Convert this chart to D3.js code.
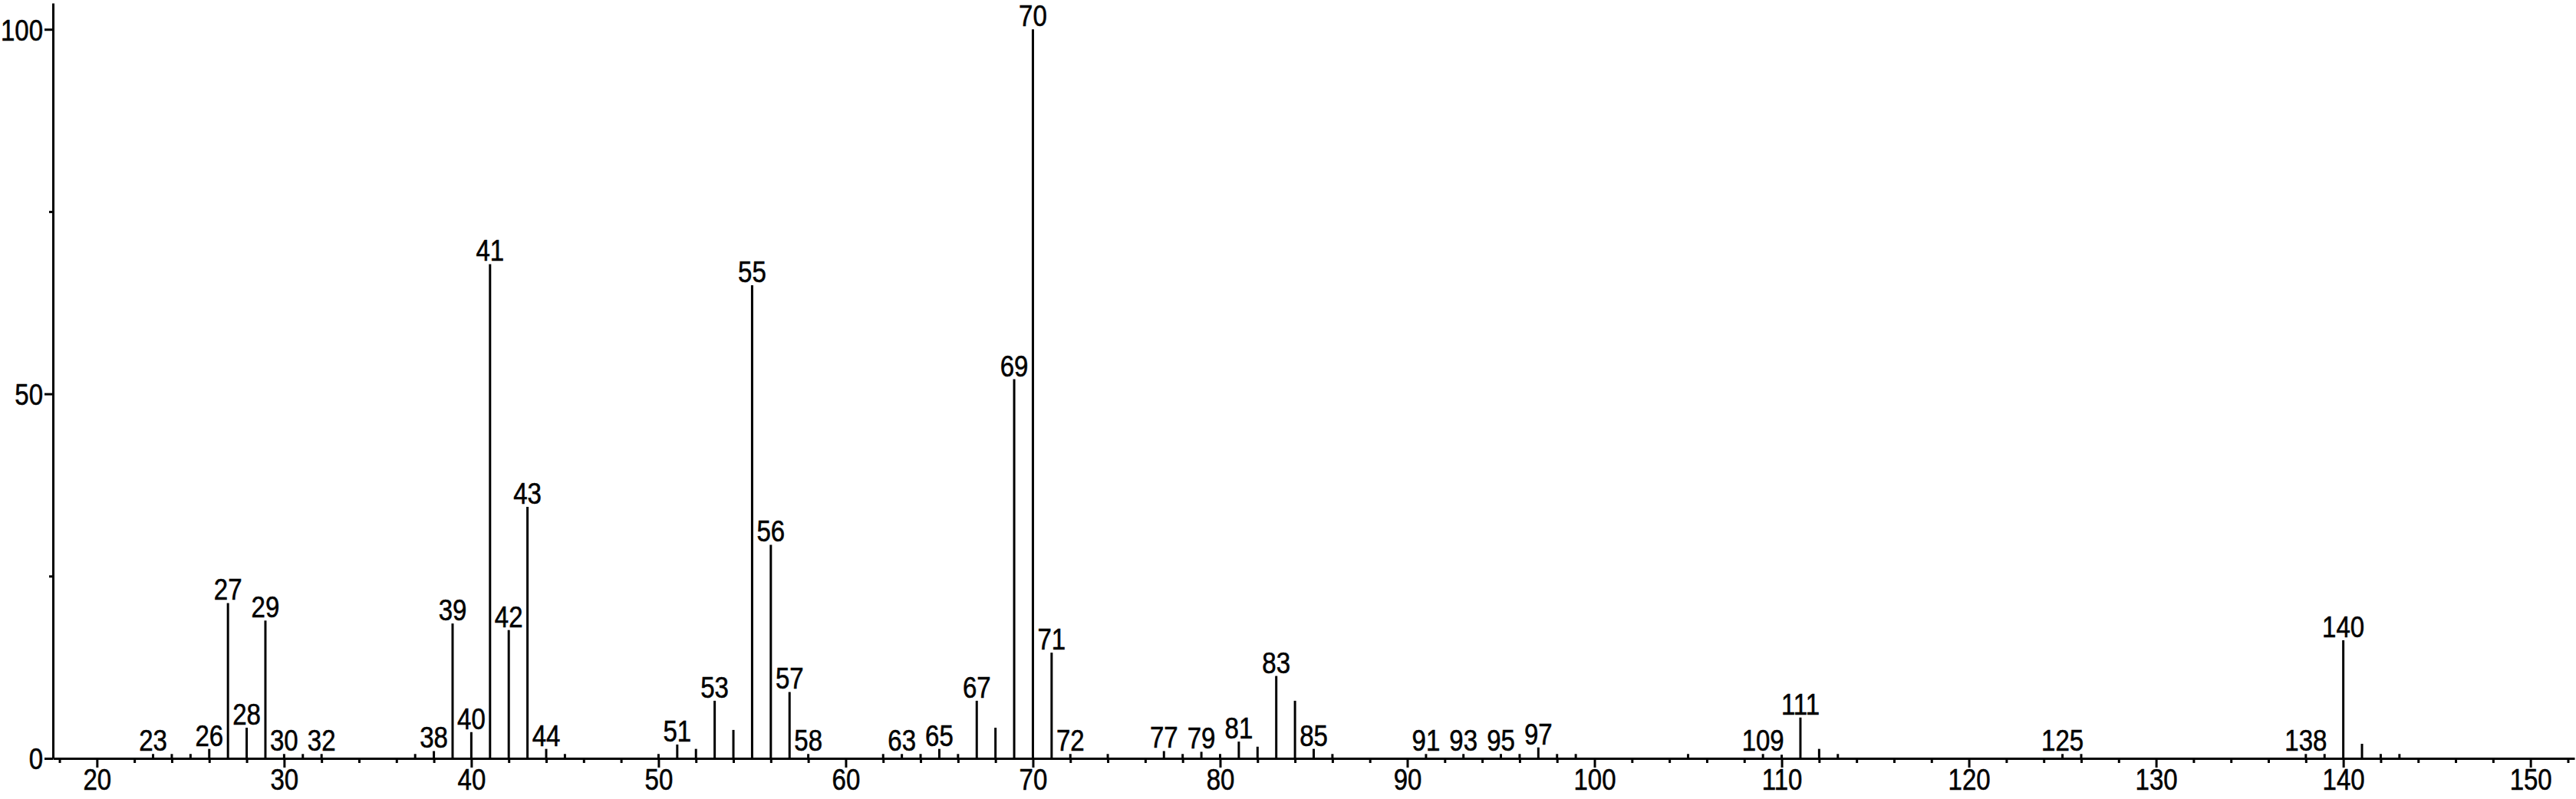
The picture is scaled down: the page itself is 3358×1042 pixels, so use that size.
<!DOCTYPE html>
<html><head><meta charset="utf-8">
<script src="https://cdn.jsdelivr.net/npm/d3@7"></script>
<style>
html,body{margin:0;padding:0;background:#fff;}
svg{display:block;}
text{font-family:"Liberation Sans",Arial,sans-serif;fill:#000;stroke:#000;stroke-width:0.5px;}
</style></head>
<body>
<script>
// m/z values of the peaks
const mz = [23,24,25,26,27,28,29,30,31,32,37,38,39,40,41,42,43,44,45,50,51,52,53,54,55,56,57,58,62,63,64,65,66,67,68,69,70,71,72,74,77,78,79,80,81,82,83,84,85,86,91,93,95,96,97,98,99,105,109,110,111,112,113,125,126,138,139,140,141,142,143];
// relative intensities (%)
const intensity = [0.6,0.6,0.6,1.3,21.3,4.2,18.9,0.6,0.6,0.6,0.6,1.0,18.5,3.6,67.8,17.6,34.5,1.3,0.6,0.6,1.9,1.3,7.9,3.9,64.9,29.3,9.1,0.6,0.6,0.6,0.6,1.3,0.6,7.9,4.2,52.0,100,14.5,0.6,0.6,1.0,0.6,0.9,0.6,2.3,1.6,11.3,7.9,1.3,0.6,0.6,0.6,0.6,0.6,1.5,0.6,0.6,0.6,0.6,0.5,5.6,1.3,0.6,0.6,0.6,0.6,0.6,16.2,2.0,0.6,0.6];
// peaks that carry an m/z label
const labeled = [23,26,27,28,29,30,32,38,39,40,41,42,43,44,51,53,55,56,57,58,63,65,67,69,70,71,72,77,79,81,83,85,91,93,95,97,109,111,125,138,140];
// axis ticks
const xMajorTicks = [20,30,40,50,60,70,80,90,100,110,120,130,140,150];
const xMinorTicks = [18,22,24,26,28,32,34,36,38,42,44,46,48,52,54,56,58,62,64,66,68,72,74,76,78,82,84,86,88,92,94,96,98,102,104,106,108,112,114,116,118,122,124,126,128,132,134,136,138,142,144,146,148,152];
const yMajorTicks = [0,50,100];
const yMinorTicks = [25,75];

const W = 3358, H = 1042;
const svg = d3.select("body").append("svg").attr("width", W).attr("height", H);

const x = d3.scaleLinear().domain([17.65, 152.35]).range([69, 3356]);
const y = d3.scaleLinear().domain([0, 103.6]).range([989, 4]);
const FS = 33;       // font size
const SY = 1.17;     // vertical stretch of the glyphs
const SW = 3;        // line width
const capH = FS * 0.716 * SY;

// peaks
const peaks = mz.map((m, i) => ({m, v: intensity[i]}));
svg.append("g").selectAll("line").data(peaks).join("line")
  .attr("x1", d => x(d.m)).attr("x2", d => x(d.m))
  .attr("y1", y(0)).attr("y2", d => y(d.v))
  .attr("stroke", "#000").attr("stroke-width", SW);

// peak labels
svg.append("g").selectAll("text").data(peaks.filter(d => labeled.includes(d.m))).join("text")
  .attr("transform", d => `translate(${x(d.m)},${y(d.v) - 4}) scale(1,${SY})`)
  .attr("text-anchor", "middle").attr("font-size", FS)
  .text(d => d.m);

// x axis: minor ticks
const gxMinor = svg.append("g").attr("transform", `translate(0,${y(0)})`)
  .call(d3.axisBottom(x).tickValues(xMinorTicks).tickSize(6).tickSizeOuter(0).tickFormat(""));
gxMinor.select(".domain").remove();
gxMinor.selectAll("line").attr("stroke", "#000").attr("stroke-width", SW);

// x axis: major ticks
const gx = svg.append("g").attr("transform", `translate(0,${y(0)})`)
  .call(d3.axisBottom(x).tickValues(xMajorTicks).tickSize(12).tickSizeOuter(0));
gx.select(".domain").attr("stroke", "#000").attr("stroke-width", SW);
gx.selectAll("line").attr("stroke", "#000").attr("stroke-width", SW);
gx.selectAll("text").attr("font-size", FS).attr("font-family", null)
  .attr("y", null).attr("dy", null)
  .attr("transform", `translate(0,41) scale(1,${SY})`);

// y axis
const gyMinor = svg.append("g").attr("transform", `translate(${x.range()[0]},0)`)
  .call(d3.axisLeft(y).tickValues(yMinorTicks).tickSize(5).tickSizeOuter(0).tickFormat(""));
gyMinor.select(".domain").remove();
gyMinor.selectAll("line").attr("stroke", "#000").attr("stroke-width", SW);

const gy = svg.append("g").attr("transform", `translate(${x.range()[0]},0)`)
  .call(d3.axisLeft(y).tickValues(yMajorTicks).tickSize(11).tickSizeOuter(0));
gy.select(".domain").attr("stroke", "#000").attr("stroke-width", SW);
gy.selectAll("line").attr("stroke", "#000").attr("stroke-width", SW);
gy.selectAll("text").attr("font-size", FS).attr("font-family", null)
  .attr("x", null).attr("dy", null)
  .attr("transform", `translate(-13,${capH / 2}) scale(1,${SY})`);
</script>
</body></html>
